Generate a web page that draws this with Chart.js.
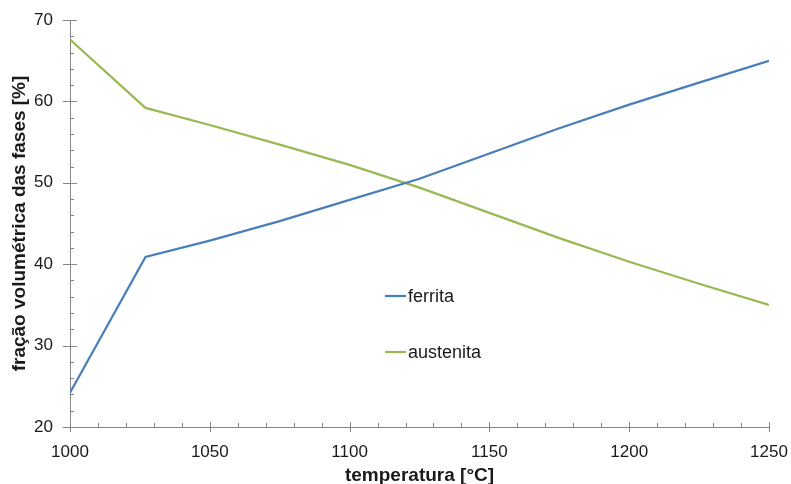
<!DOCTYPE html>
<html>
<head>
<meta charset="utf-8">
<script src="https://cdn.jsdelivr.net/npm/chart.js@4.4.0/dist/chart.umd.min.js"></script>
<style>
html, body { margin: 0; padding: 0; background: #fff; }
#wrap { width: 791px; height: 484px; }
</style>
</head>
<body>
<div id="wrap"><canvas id="fases"></canvas></div>
<script>
// temperatura [°C]
var temperaturas = [1000, 1027, 1050, 1075, 1100, 1125, 1150, 1175, 1200, 1225, 1250];
// fração volumétrica [%]
var ferrita   = [24.2, 40.9, 42.9, 45.3, 47.9, 50.5, 53.6, 56.7, 59.6, 62.3, 65.0];
var austenita = [67.6, 59.2, 57.1, 54.7, 52.2, 49.4, 46.3, 43.2, 40.3, 37.6, 35.0];
var nomes = ['ferrita', 'austenita'];
var cores = ['#4A7EBB', '#98B954'];

var corEixo = '#868686';
var corTexto = '#1a1a1a';
var fonte = '"Liberation Sans", Arial, sans-serif';

function pontos(valores) {
    return temperaturas.map(function (t, i) { return { x: t, y: valores[i] }; });
}

// traços maiores (cruzando o eixo) e menores (para dentro)
var tracos = {
    id: 'tracos',
    afterDraw: function (chart) {
        var c = chart.ctx, xs = chart.scales.x, ys = chart.scales.y;
        var area = chart.chartArea;
        c.save();
        c.strokeStyle = corEixo;
        c.lineWidth = 1;
        c.beginPath();
        for (var v = 20; v <= 70; v += 2) {
            var py = Math.round(ys.getPixelForValue(v)) + 0.5;
            if (v % 10 === 0) { c.moveTo(area.left - 7, py); c.lineTo(area.left + 7, py); }
            else { c.moveTo(area.left, py); c.lineTo(area.left + 4, py); }
        }
        for (var t = 1000; t <= 1250; t += 10) {
            var px = Math.round(xs.getPixelForValue(t)) + 0.5;
            if (t % 50 === 0) { c.moveTo(px, area.bottom - 5); c.lineTo(px, area.bottom + 5); }
            else { c.moveTo(px, area.bottom); c.lineTo(px, area.bottom - 4); }
        }
        c.stroke();
        c.restore();
    }
};

// legenda dentro da área do gráfico
var legenda = {
    id: 'legenda',
    afterDraw: function (chart) {
        var c = chart.ctx, area = chart.chartArea;
        var x0 = area.left + 315, y0 = area.top + 276, passo = 56;
        c.save();
        c.font = '18px ' + fonte;
        c.textBaseline = 'middle';
        c.textAlign = 'left';
        for (var i = 0; i < nomes.length; i++) {
            var y = y0 + i * passo;
            c.strokeStyle = cores[i];
            c.lineWidth = 2.25;
            c.beginPath();
            c.moveTo(x0, y);
            c.lineTo(x0 + 21, y);
            c.stroke();
            c.fillStyle = corTexto;
            c.fillText(nomes[i], x0 + 23, y + 1);
        }
        c.restore();
    }
};

var ctx = document.getElementById('fases').getContext('2d');
var grafico = new Chart(ctx, {
    type: 'line',
    data: {
        datasets: [{
            label: nomes[0],
            data: pontos(ferrita),
            borderColor: cores[0],
            backgroundColor: cores[0],
            borderWidth: 2.25,
            pointRadius: 0,
            tension: 0
        }, {
            label: nomes[1],
            data: pontos(austenita),
            borderColor: cores[1],
            backgroundColor: cores[1],
            borderWidth: 2.25,
            pointRadius: 0,
            tension: 0
        }]
    },
    options: {
        responsive: true,
        maintainAspectRatio: false,
        animation: false,
        layout: { padding: { top: 20, right: 22, left: 0, bottom: 0 } },
        plugins: {
            legend: { display: false },
            tooltip: { enabled: false }
        },
        scales: {
            x: {
                type: 'linear',
                min: 1000,
                max: 1250,
                afterFit: function (s) {
                    s.height = 57;
                    s.paddingLeft = 0; s.paddingRight = 0;
                },
                grid: { display: false, drawTicks: false },
                border: { display: true, color: corEixo, width: 1 },
                ticks: {
                    stepSize: 50,
                    padding: 15,
                    color: corTexto,
                    font: { family: fonte, size: 17 },
                    callback: function (v) { return String(v); }
                },
                title: {
                    display: true,
                    text: 'temperatura [°C]',
                    color: corTexto,
                    padding: { top: 0, bottom: -3 },
                    font: { family: fonte, size: 19, weight: 'bold' }
                }
            },
            y: {
                min: 20,
                max: 70,
                afterFit: function (s) {
                    s.width = 70;
                    s.paddingTop = 0; s.paddingBottom = 0;
                },
                grid: { display: false, drawTicks: false },
                border: { display: true, color: corEixo, width: 1 },
                ticks: {
                    stepSize: 10,
                    padding: 17,
                    color: corTexto,
                    font: { family: fonte, size: 17 }
                },
                title: {
                    display: true,
                    text: 'fração volumétrica das fases [%]',
                    color: corTexto,
                    padding: { top: 8, bottom: 0 },
                    font: { family: fonte, size: 19, weight: 'bold' }
                }
            }
        }
    },
    plugins: [tracos, legenda]
});
</script>
</body>
</html>
